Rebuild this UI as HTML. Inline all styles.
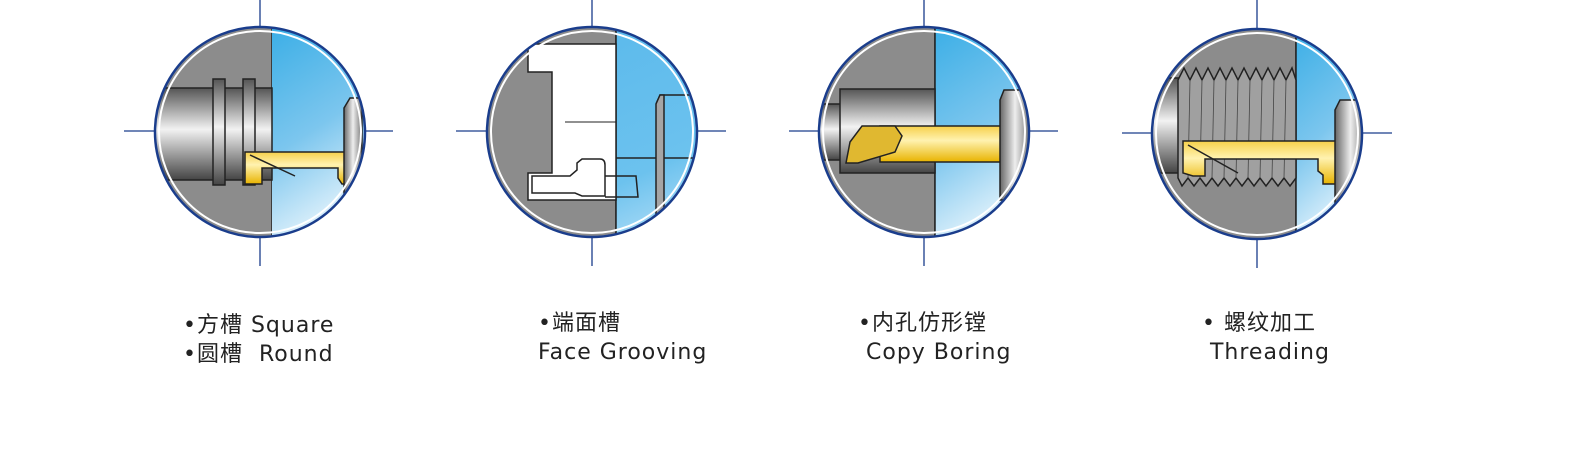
<!DOCTYPE html>
<html><head><meta charset="utf-8"><style>
html,body{margin:0;padding:0;background:#fff;width:1580px;height:456px;overflow:hidden}
.t{position:absolute;font-family:"DejaVu Sans","Noto Sans CJK SC",sans-serif;font-size:22px;color:#222;white-space:nowrap;line-height:29px;letter-spacing:1px}
</style></head><body>
<svg width="1580" height="456" style="position:absolute;left:0;top:0">
<defs>
<linearGradient id="blue" x1="0" y1="0" x2="0.3" y2="1"><stop offset="0" stop-color="#3aaee6"/><stop offset="0.55" stop-color="#7cc6ee"/><stop offset="1" stop-color="#e6f4fc"/></linearGradient>
<linearGradient id="blue2" x1="0" y1="0" x2="0.2" y2="1"><stop offset="0" stop-color="#5cbaec"/><stop offset="0.7" stop-color="#6cc2ee"/><stop offset="1" stop-color="#a8daf6"/></linearGradient>
<linearGradient id="shaft" x1="0" y1="0" x2="0" y2="1"><stop offset="0" stop-color="#555"/><stop offset="0.45" stop-color="#f2f2f2"/><stop offset="1" stop-color="#444"/></linearGradient>
<linearGradient id="hold" x1="0" y1="0" x2="1" y2="0"><stop offset="0" stop-color="#666"/><stop offset="0.5" stop-color="#eee"/><stop offset="1" stop-color="#777"/></linearGradient>
<linearGradient id="gold" x1="0" y1="0" x2="0" y2="1"><stop offset="0" stop-color="#f6d04a"/><stop offset="0.4" stop-color="#fff2b0"/><stop offset="1" stop-color="#e8b300"/></linearGradient>
<clipPath id="c1"><circle cx="260" cy="132" r="104"/></clipPath>
<clipPath id="c2"><circle cx="592" cy="132" r="104"/></clipPath>
<clipPath id="c3"><circle cx="924" cy="132" r="104"/></clipPath>
<clipPath id="c4"><circle cx="1257" cy="134" r="104"/></clipPath>
</defs>
<g stroke="#1a3d8c" stroke-width="1.3">
<line x1="260" y1="0" x2="260" y2="266"/><line x1="124" y1="131" x2="393" y2="131"/>
<line x1="592" y1="0" x2="592" y2="266"/><line x1="456" y1="131" x2="726" y2="131"/>
<line x1="924" y1="0" x2="924" y2="266"/><line x1="789" y1="131" x2="1058" y2="131"/>
<line x1="1257" y1="0" x2="1257" y2="268"/><line x1="1122" y1="133" x2="1392" y2="133"/>
</g>
<!-- circle 1 -->
<g clip-path="url(#c1)" stroke="#222" stroke-width="1.5">
<rect x="150" y="25" width="122" height="220" fill="#8c8c8c"/>
<rect x="272" y="25" width="100" height="220" fill="url(#blue)" stroke="none"/>
<rect x="150" y="88" width="122" height="92" fill="url(#shaft)"/>
<rect x="213" y="79" width="12" height="106" fill="url(#shaft)"/>
<rect x="243" y="79" width="12" height="106" fill="url(#shaft)"/>
<path d="M245 152 H345 V184 H342 L338 178 V168 H262 L262 184 H245 Z" fill="url(#gold)"/>
<line x1="250" y1="155" x2="295" y2="176"/>
<path d="M344 108 L350 98 H362 V193 L344 193 Z" fill="url(#hold)"/>
</g>
<circle cx="260" cy="132" r="105" fill="none" stroke="#1a3d8c" stroke-width="2.5"/>
<circle cx="260" cy="132" r="101" fill="none" stroke="#fff" stroke-width="2"/>
<!-- circle 2 -->
<g clip-path="url(#c2)" stroke="#222" stroke-width="1.5">
<rect x="480" y="25" width="136" height="220" fill="#8c8c8c"/>
<rect x="616" y="25" width="100" height="220" fill="url(#blue2)"/>
<path d="M528 44 H616 V200 H528 V173 H552 V72 H528 Z" fill="#fff"/>
<line x1="565" y1="122" x2="616" y2="122" stroke-width="1"/>
<line x1="616" y1="158" x2="700" y2="158"/>
<path d="M532 176 H570 L577 170 V163 L582 159 H600 Q605 159 605 165 V196 H582 L575 193 H532 Z" fill="#fff"/>
<path d="M605 176 H636 L638 197 H605" fill="none"/>
<path d="M656 104 L660 95 H700" fill="none"/>
<path d="M656 104 L660 95 H664 V240 H656 Z" fill="#a5a5a5"/>
</g>
<circle cx="592" cy="132" r="105" fill="none" stroke="#1a3d8c" stroke-width="2.5"/>
<circle cx="592" cy="132" r="101" fill="none" stroke="#fff" stroke-width="2"/>
<!-- circle 3 -->
<g clip-path="url(#c3)" stroke="#222" stroke-width="1.5">
<rect x="815" y="25" width="120" height="220" fill="#8c8c8c"/>
<rect x="935" y="25" width="100" height="220" fill="url(#blue)"/>
<rect x="815" y="104" width="26" height="56" fill="url(#shaft)"/>
<rect x="840" y="89" width="95" height="84" fill="url(#shaft)"/>
<rect x="880" y="126" width="122" height="36" fill="url(#gold)"/>
<path d="M850 142 L862 126 H895 L902 136 L895 152 L858 163 H846 Z" fill="#e0b830"/>
<path d="M1000 100 L1004 90 H1030 V200 H1000 Z" fill="url(#hold)"/>
</g>
<circle cx="924" cy="132" r="105" fill="none" stroke="#1a3d8c" stroke-width="2.5"/>
<circle cx="924" cy="132" r="101" fill="none" stroke="#fff" stroke-width="2"/>
<!-- circle 4 -->
<g clip-path="url(#c4)" stroke="#222" stroke-width="1.5">
<rect x="1150" y="28" width="146" height="215" fill="#8c8c8c"/>
<rect x="1296" y="28" width="70" height="215" fill="url(#blue)"/>
<rect x="1150" y="78" width="30" height="95" fill="url(#shaft)"/>
<path d="M1178 80 L1184 68 L1190 80 L1196 68 L1202 80 L1208 68 L1214 80 L1220 68 L1226 80 L1232 68 L1238 80 L1244 68 L1250 80 L1256 68 L1262 80 L1268 68 L1274 80 L1280 68 L1286 80 L1292 68 L1296 80 V178 L1290 186 L1284 178 L1278 186 L1272 178 L1266 186 L1260 178 L1254 186 L1248 178 L1242 186 L1236 178 L1230 186 L1224 178 L1218 186 L1212 178 L1206 186 L1200 178 L1194 186 L1188 178 L1182 186 L1178 178 Z" fill="#a0a0a0"/>
<g stroke-width="0.8" stroke="#444"><line x1="1190" y1="80" x2="1188" y2="178"/><line x1="1202" y1="80" x2="1200" y2="178"/><line x1="1214" y1="80" x2="1212" y2="178"/><line x1="1226" y1="80" x2="1224" y2="178"/><line x1="1238" y1="80" x2="1236" y2="178"/><line x1="1250" y1="80" x2="1248" y2="178"/><line x1="1262" y1="80" x2="1260" y2="178"/><line x1="1274" y1="80" x2="1272" y2="178"/><line x1="1286" y1="80" x2="1284" y2="178"/></g>
<path d="M1183 141 H1345 V184 H1323 V175 L1318 171 V159 H1205 V176 H1193 L1183 173 Z" fill="url(#gold)"/>
<line x1="1188" y1="145" x2="1238" y2="173"/>
<path d="M1335 110 L1340 100 H1366 V210 H1335 Z" fill="url(#hold)"/>
</g>
<circle cx="1257" cy="134" r="105" fill="none" stroke="#1a3d8c" stroke-width="2.5"/>
<circle cx="1257" cy="134" r="101" fill="none" stroke="#fff" stroke-width="2"/>
</svg>
<div class="t" style="left:183px;top:311px">•方槽 Square<br>•圆槽&nbsp; Round</div>
<div class="t" style="left:538px;top:309px">•端面槽<br>Face Grooving</div>
<div class="t" style="left:858px;top:309px">•内孔仿形镗<br>&nbsp;Copy Boring</div>
<div class="t" style="left:1202px;top:309px">• 螺纹加工<br>&nbsp;Threading</div>
</body></html>
